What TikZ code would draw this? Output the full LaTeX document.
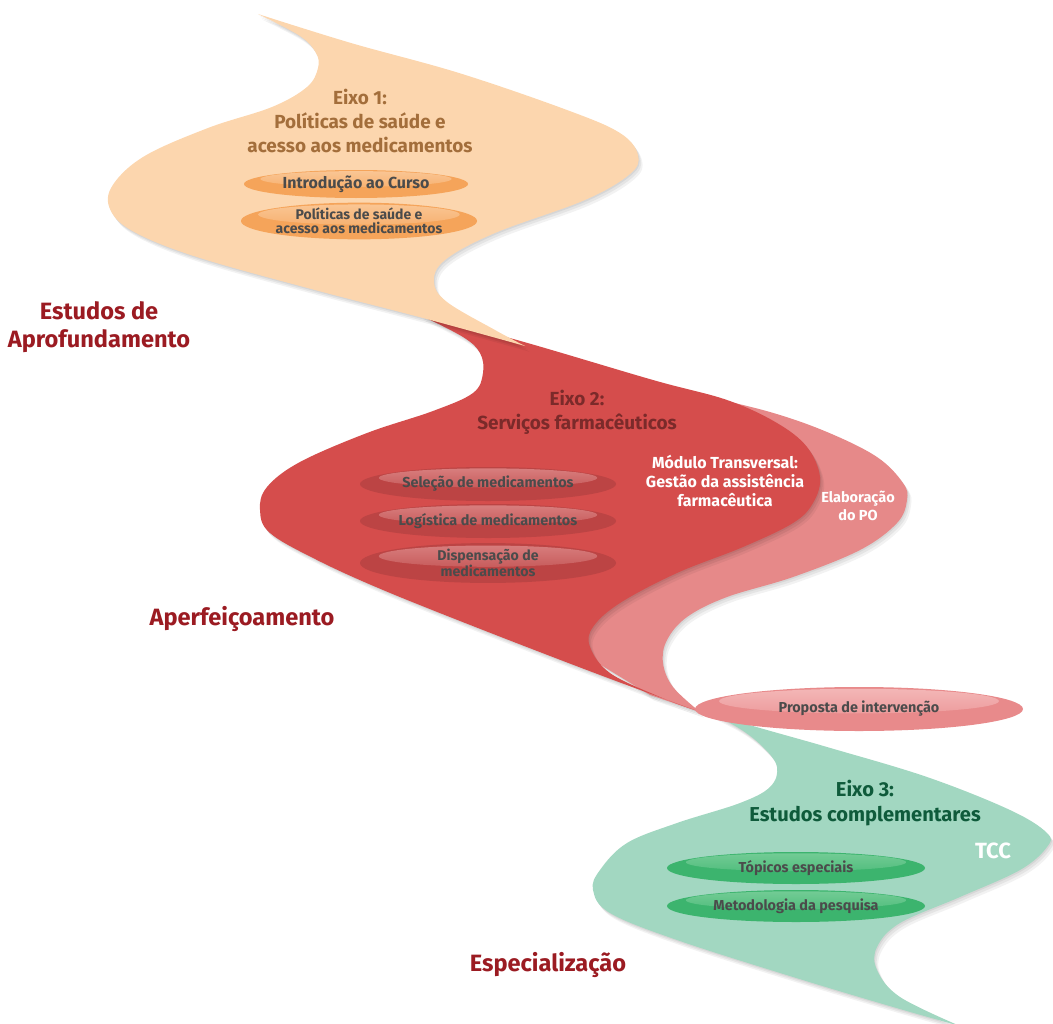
\documentclass[tikz,border=0pt]{standalone}
\usepackage{fontspec}
\setmainfont{Fira Sans}
\usetikzlibrary{shapes.geometric}
\definecolor{peach}{HTML}{FCD6AE}
\definecolor{peachtext}{HTML}{A36E3B}
\definecolor{orangepill}{HTML}{F5A45A}
\definecolor{orangelight}{HTML}{FAC796}
\definecolor{redband}{HTML}{D54D4C}
\definecolor{redtext}{HTML}{7B2A2A}
\definecolor{redpill}{HTML}{BC4444}
\definecolor{redlight}{HTML}{D98080}
\definecolor{pinkband}{HTML}{E68989}
\definecolor{pinkpill}{HTML}{E88A8B}
\definecolor{pinklight}{HTML}{F4B8B8}
\definecolor{greenband}{HTML}{A2D7C1}
\definecolor{greentext}{HTML}{0F5B3B}
\definecolor{greenpill}{HTML}{3CB46E}
\definecolor{greenlight}{HTML}{74CC96}
\definecolor{labelred}{HTML}{9B1B22}
\definecolor{pilltext}{HTML}{4B4B4B}

\newcommand\peachoutline{plot[smooth,tension=0.6] coordinates{(258,14) (300,36) (316,53) (318,68) (307,87) (272,107) (208,128) (143,157) (111,188) (112,213) (138,234) (200,258) (315,290) (423,318) (525,346)}
 -- plot[smooth,tension=0.6] coordinates{(525,346) (495,330) (447,302) (434,282) (445,260) (495,233) (585,200) (630,174) (638,155) (620,133) (567,110) (459,73) (351,43) (258,14)} -- cycle}
\newcommand\redoutline{plot[smooth,tension=0.6] coordinates{(420,315) (463,337) (480,353) (483,373) (473,393) (433,411) (367,433) (300,462) (267,487) (260,510) (270,533) (317,560) (383,590) (483,630) (600,675) (700,712)}
 -- plot[smooth,tension=0.6] coordinates{(700,712) (660,697) (610,673) (590,647) (593,627) (620,603) (677,573) (743,547) (793,523) (813,503) (820,477) (807,447) (777,423) (727,400) (653,380) (517,340) (420,315)} -- cycle}
\newcommand\pinkoutline{plot[smooth,tension=0.6] coordinates{(700,395) (770,412) (827,432) (877,457) (903,483) (907,500) (897,523) (860,550) (793,577) (727,597) (687,617) (667,640) (663,663) (673,687) (700,712)}
 -- (650,695) -- (560,640) -- (560,600) -- (700,520) -- cycle}
\newcommand\greenoutline{plot[smooth,tension=0.6] coordinates{(697,707) (737,727) (763,747) (777,767) (770,787) (740,803) (677,823) (627,843) (600,870) (593,890) (610,913) (677,940) (793,977) (893,1007) (960,1026)}
 -- plot[smooth,tension=0.6] coordinates{(960,1026) (900,997) (877,970) (877,947) (900,923) (960,897) (1020,870) (1047,847) (1047,833) (1010,810) (927,777) (827,747) (743,723) (697,707)} -- cycle}

\newcommand\softshadow[1]{%
  \begin{scope}[shift={(1,1.5)}]\fill[black,opacity=0.06] #1;\end{scope}
  \begin{scope}[shift={(2.5,3.5)}]\fill[black,opacity=0.06] #1;\end{scope}
  \begin{scope}[shift={(4,5.5)}]\fill[black,opacity=0.05] #1;\end{scope}}

\newcommand\pillnode[9]{%
  \node[pill, fill=#6, minimum width=#4*1.5pt, minimum height=#5*1.5pt, #9,
    path picture={\fill[top color=#7, bottom color=#6]
      ([yshift=#5*0.27pt]path picture bounding box.center)
      ellipse [x radius=#4*0.64pt, y radius=#5*0.42pt];}]
    (#1) at (#2,#3) {#8};}

\begin{document}
\begin{tikzpicture}[x=0.75pt,y=-0.75pt,
  biglabel/.style={text=labelred, font=\bfseries\fontsize{17.7}{21.3}\selectfont, align=center},
  headtext/.style={font=\bfseries\fontsize{14.2}{18}\selectfont, align=center},
  whitetext/.style={text=white, font=\bfseries\fontsize{12}{14.2}\selectfont, align=center},
  pill/.style={ellipse, inner sep=0pt, align=center, text=pilltext,
    font=\bfseries\fontsize{10.8}{10.5}\selectfont}]
\useasboundingbox (0,0) rectangle (1053,1024);

% bands
\softshadow{\greenoutline}
\fill[greenband] \greenoutline;
\softshadow{\pinkoutline}
\fill[pinkband] \pinkoutline;
\softshadow{\redoutline}
\fill[redband] \redoutline;
\softshadow{\peachoutline}
\fill[peach] \peachoutline;

% side labels
\node[biglabel] (lab1) at (99,327) {Estudos de\\Aprofundamento};
\node[biglabel] (lab2) at (242,619) {Aperfeiçoamento};
\node[biglabel] (lab3) at (548,965) {Especialização};

% axis 1
\node[headtext, text=peachtext] (eixo1) at (360,121) {Eixo 1:\\Políticas de saúde e\\acesso aos medicamentos};
\pillnode{intro}{356}{184}{112}{14}{orangepill}{orangelight}{Introdução ao Curso}{font=\bfseries\fontsize{12}{12}\selectfont}
\pillnode{polit}{359}{221}{118}{18}{orangepill}{orangelight}{Políticas de saúde e\\acesso aos medicamentos}{font=\bfseries\fontsize{10.5}{10.5}\selectfont}

% axis 2
\node[headtext, text=redtext] (eixo2) at (577,412) {Eixo 2:\\Serviços farmacêuticos};
\pillnode{selec}{488}{484}{128}{17}{redpill}{redlight}{Seleção de medicamentos}{}
\pillnode{logis}{488}{521}{128}{17}{redpill}{redlight}{Logística de medicamentos}{}
\pillnode{dispe}{488}{563}{128}{19}{redpill}{redlight}{Dispensação de\\medicamentos}{font=\bfseries\fontsize{10.6}{10.5}\selectfont}
\node[whitetext] (modulo) at (725,481) {Módulo Transversal:\\Gestão da assistência\\farmacêutica};
\node[whitetext, font=\bfseries\fontsize{10.9}{13.5}\selectfont] (elab) at (858,506) {Elaboração\\do PO};
\pillnode{propo}{859}{709}{164}{22}{pinkpill}{pinklight}{Proposta de intervenção}{}

% axis 3
\node[headtext, text=greentext, font=\bfseries\fontsize{15.1}{19}\selectfont] (eixo3) at (865,803) {Eixo 3:\\Estudos complementares};
\node[text=white, font=\bfseries\fontsize{16.5}{18}\selectfont] (tcc) at (993,851) {TCC};
\pillnode{topic}{796}{868}{129}{16}{greenpill}{greenlight}{Tópicos especiais}{}
\pillnode{metod}{796}{906}{129}{16}{greenpill}{greenlight}{Metodologia da pesquisa}{}
\end{tikzpicture}
\end{document}
